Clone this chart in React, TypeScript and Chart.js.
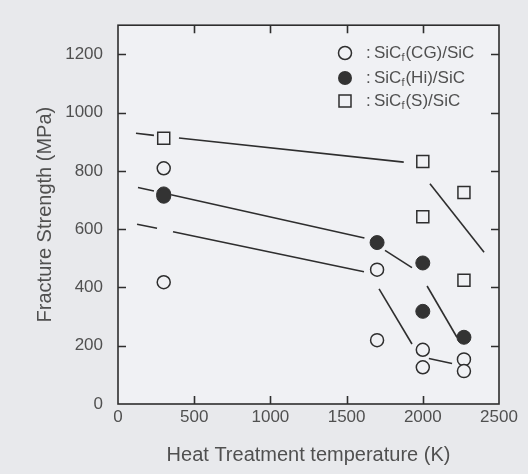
import React, { useEffect, useRef } from 'react';
import { Chart, registerables } from 'chart.js';

Chart.register(...registerables);

// ---- data ----
const xTickValues = [0, 500, 1000, 1500, 2000, 2500];
const yTickValues = [0, 200, 400, 600, 800, 1000, 1200];
const xMin = 0;
const xMax = 2500;
const yMin = 0;
const yMax = 1300;

// SiCf(CG)/SiC  (open circles)
const cgTempK = [300, 300, 1700, 1700, 2000, 2000, 2270, 2270];
const cgStrength = [809, 418, 461, 219, 186, 126, 153, 113];
// SiCf(Hi)/SiC  (filled circles)
const hiTempK = [300, 300, 1700, 2000, 2000, 2270];
const hiStrength = [721, 713, 554, 484, 318, 229];
// SiCf(S)/SiC  (open squares)
const sTempK = [300, 2000, 2000, 2270, 2270];
const sStrength = [912, 832, 643, 726, 425];

// trend-line segments: consecutive pairs are segment end points
const cgFitX = [125, 256, 361, 1614, 1713, 1929, 2040, 2192];
const cgFitY = [617, 603, 591, 454, 395, 206, 156, 139];
const hiFitX = [131, 236, 348, 1617, 1752, 1929, 2028, 2224];
const hiFitY = [743, 731, 718, 570, 527, 468, 405, 229];
const sFitX = [118, 236, 400, 1875, 2047, 2402];
const sFitY = [929, 922, 913, 830, 756, 521];

const legendNames = ['(CG)/SiC', '(Hi)/SiC', '(S)/SiC'];

// ---- styles ----
const FONT = '"Liberation Sans", Arial, Helvetica, sans-serif';
const PAGE_BG = '#e8e9ec';
const PLOT_BG = '#f0f1f4';
const INK = '#2e2e2e';
const TEXT = '#505050';

const pts = (xs: number[], ys: number[]) => xs.map((x, i) => ({ x, y: ys[i] }));

const segments = (xs: number[], ys: number[]) => {
  const out: any[] = [];
  for (let i = 0; i + 1 < xs.length; i += 2) {
    out.push({
      type: 'scatter',
      data: [
        { x: xs[i], y: ys[i] },
        { x: xs[i + 1], y: ys[i + 1] },
      ],
      showLine: true,
      borderColor: INK,
      borderWidth: 1.6,
      pointRadius: 0,
      pointHoverRadius: 0,
      order: 2,
    });
  }
  return out;
};

const framePlugin = {
  id: 'frame',
  beforeDraw(chart: any) {
    const { ctx, chartArea: a, width, height } = chart;
    ctx.save();
    ctx.fillStyle = PAGE_BG;
    ctx.fillRect(0, 0, width, height);
    ctx.fillStyle = PLOT_BG;
    ctx.fillRect(a.left, a.top, a.right - a.left, a.bottom - a.top);
    ctx.restore();
  },
  afterDatasetsDraw(chart: any) {
    const { ctx, chartArea: a, scales } = chart;
    ctx.save();
    ctx.strokeStyle = INK;
    ctx.lineWidth = 1.6;
    ctx.strokeRect(a.left, a.top, a.right - a.left, a.bottom - a.top);
    const L = 8;
    ctx.beginPath();
    scales.x.ticks.forEach((t: any) => {
      if (t.value <= xMin || t.value >= xMax) return;
      const px = Math.round(scales.x.getPixelForValue(t.value)) + 0.5;
      ctx.moveTo(px, a.bottom);
      ctx.lineTo(px, a.bottom - L);
      ctx.moveTo(px, a.top);
      ctx.lineTo(px, a.top + L);
    });
    scales.y.ticks.forEach((t: any) => {
      if (t.value <= yMin || t.value >= yMax) return;
      const py = Math.round(scales.y.getPixelForValue(t.value)) + 0.5;
      ctx.moveTo(a.left, py);
      ctx.lineTo(a.left + L, py);
      ctx.moveTo(a.right, py);
      ctx.lineTo(a.right - L, py);
    });
    ctx.stroke();

    // legend
    const mx = 345;
    const rows = [53, 78, 101];
    rows.forEach((y, i) => {
      ctx.lineWidth = 1.5;
      ctx.strokeStyle = INK;
      ctx.beginPath();
      if (i === 0) {
        ctx.arc(mx, y, 6.5, 0, Math.PI * 2);
        ctx.fillStyle = PLOT_BG;
        ctx.fill();
        ctx.stroke();
      } else if (i === 1) {
        ctx.arc(mx, y, 7, 0, Math.PI * 2);
        ctx.fillStyle = '#333';
        ctx.fill();
      } else {
        ctx.rect(mx - 6, y - 6, 12, 12);
        ctx.fillStyle = PLOT_BG;
        ctx.fill();
        ctx.stroke();
      }
      ctx.fillStyle = TEXT;
      ctx.textBaseline = 'middle';
      ctx.textAlign = 'left';
      ctx.font = `17px ${FONT}`;
      ctx.fillText(':', 366, y);
      let x = 374;
      ctx.fillText('SiC', x, y);
      x += ctx.measureText('SiC').width;
      ctx.font = `11px ${FONT}`;
      ctx.fillText('f', x, y + 5);
      x += ctx.measureText('f').width + 1;
      ctx.font = `17px ${FONT}`;
      ctx.fillText(legendNames[i], x, y);
    });
    ctx.restore();
  },
};

export default function App() {
  const ref = useRef<HTMLCanvasElement | null>(null);

  useEffect(() => {
    document.body.style.margin = '0';
    const canvas = ref.current;
    if (!canvas) return;
    const chart = new Chart(canvas, {
      type: 'scatter',
      data: {
        datasets: [
          {
            label: 'SiCf(CG)/SiC',
            data: pts(cgTempK, cgStrength),
            pointStyle: 'circle',
            pointRadius: 6.5,
            pointBorderWidth: 1.5,
            pointBorderColor: INK,
            pointBackgroundColor: PLOT_BG,
            order: 1,
          },
          {
            label: 'SiCf(Hi)/SiC',
            data: pts(hiTempK, hiStrength),
            pointStyle: 'circle',
            pointRadius: 7,
            pointBorderWidth: 1,
            pointBorderColor: '#333',
            pointBackgroundColor: '#333',
            order: 1,
          },
          {
            label: 'SiCf(S)/SiC',
            data: pts(sTempK, sStrength),
            pointStyle: 'rect',
            pointRadius: 8.5,
            pointBorderWidth: 1.5,
            pointBorderColor: INK,
            pointBackgroundColor: PLOT_BG,
            order: 1,
          },
          ...segments(cgFitX, cgFitY),
          ...segments(hiFitX, hiFitY),
          ...segments(sFitX, sFitY),
        ] as any,
      },
      options: {
        responsive: false,
        animation: false,
        devicePixelRatio: 1,
        layout: { padding: { top: 12, right: 29, left: 0, bottom: 0 } },
        plugins: {
          legend: { display: false },
          tooltip: { enabled: false },
        },
        scales: {
          x: {
            type: 'linear',
            min: xMin,
            max: xMax,
            afterBuildTicks: (s: any) => {
              s.ticks = xTickValues.map((v) => ({ value: v }));
            },
            afterFit: (s: any) => {
              s.height = 70;
            },
            grid: { display: false, drawTicks: false },
            border: { display: false },
            ticks: {
              padding: 3,
              color: TEXT,
              font: { family: FONT, size: 17 },
              maxRotation: 0,
              callback: (v: any) => String(v),
            },
            title: {
              display: true,
              text: 'Heat Treatment temperature (K)',
              color: TEXT,
              font: { family: FONT, size: 20 },
              padding: { top: 0, bottom: 7 },
            },
          },
          y: {
            type: 'linear',
            min: yMin,
            max: yMax,
            afterBuildTicks: (s: any) => {
              s.ticks = yTickValues.map((v) => ({ value: v }));
            },
            afterFit: (s: any) => {
              s.width = 118;
            },
            grid: { display: false, drawTicks: false },
            border: { display: false },
            ticks: {
              padding: 15,
              color: TEXT,
              font: { family: FONT, size: 17 },
              callback: (v: any) => String(v),
            },
            title: {
              display: true,
              text: 'Fracture Strength (MPa)',
              color: TEXT,
              font: { family: FONT, size: 20 },
              padding: { top: 33, bottom: 0 },
            },
          },
        },
      },
      plugins: [framePlugin],
    });
    return () => chart.destroy();
  }, []);

  return (
    <div style={{ width: 528, height: 474, background: PAGE_BG }}>
      <canvas ref={ref} width={528} height={474} style={{ display: 'block' }} />
    </div>
  );
}
